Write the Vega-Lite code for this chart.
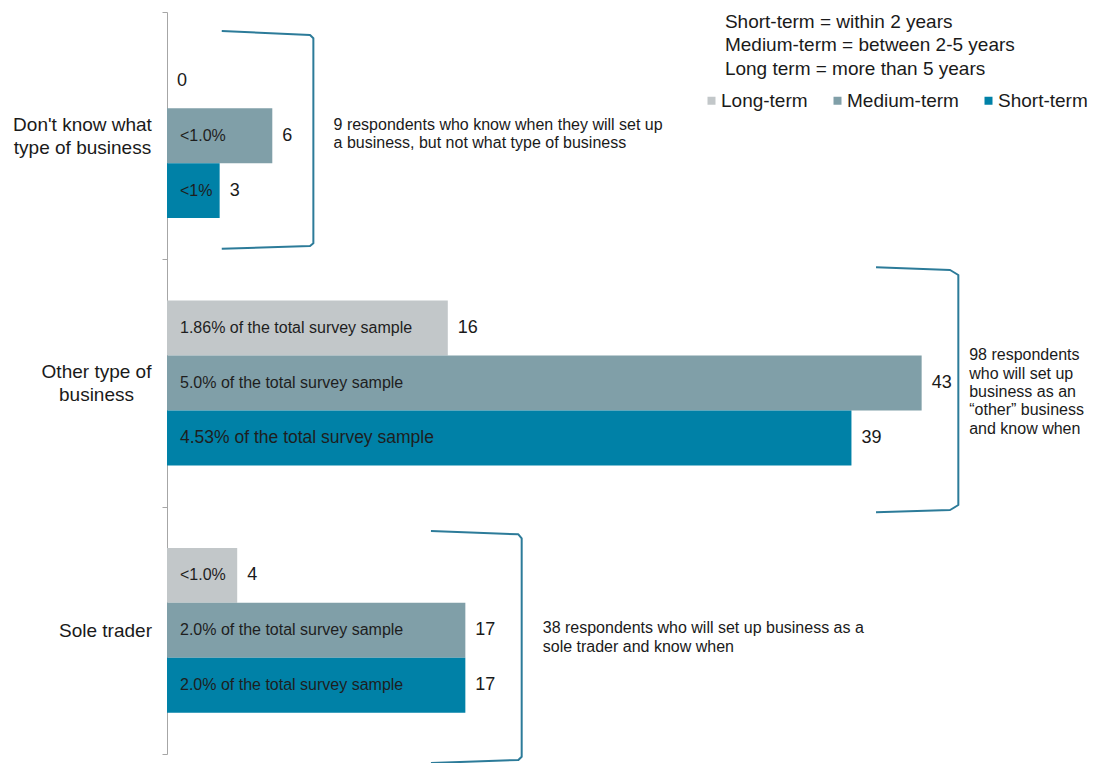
{
  "$schema": "https://vega.github.io/schema/vega-lite/v6.json",
  "width": 912.6,
  "height": 742,
  "autosize": "none",
  "padding": {"left": 167, "top": 12, "right": 16.4, "bottom": 9},
  "config": {"view": {"stroke": null}, "font": "Liberation Sans"},
  "datasets": {
    "bars": [
      {"category": "Don't know what type of business", "term": "Long-term", "count": 0, "pct": ""},
      {"category": "Don't know what type of business", "term": "Medium-term", "count": 6, "pct": "<1.0%"},
      {"category": "Don't know what type of business", "term": "Short-term", "count": 3, "pct": "<1%"},
      {"category": "Other type of business", "term": "Long-term", "count": 16, "pct": "1.86% of the total survey sample"},
      {"category": "Other type of business", "term": "Medium-term", "count": 43, "pct": "5.0% of the total survey sample"},
      {"category": "Other type of business", "term": "Short-term", "count": 39, "pct": "4.53% of the total survey sample"},
      {"category": "Sole trader", "term": "Long-term", "count": 4, "pct": "<1.0%"},
      {"category": "Sole trader", "term": "Medium-term", "count": 17, "pct": "2.0% of the total survey sample"},
      {"category": "Sole trader", "term": "Short-term", "count": 17, "pct": "2.0% of the total survey sample"}
    ],
    "brackets": [
      {"group": "dont_know", "i": 1, "x": 3.12, "y": 0.0768},
      {"group": "dont_know", "i": 2, "x": 8.15, "y": 0.093},
      {"group": "dont_know", "i": 3, "x": 8.34, "y": 0.1063},
      {"group": "dont_know", "i": 4, "x": 8.34, "y": 0.9352},
      {"group": "dont_know", "i": 5, "x": 8.15, "y": 0.9461},
      {"group": "dont_know", "i": 6, "x": 3.12, "y": 0.957},
      {"group": "other", "i": 1, "x": 40.4, "y": 1.0322},
      {"group": "other", "i": 2, "x": 44.62, "y": 1.0431},
      {"group": "other", "i": 3, "x": 45.09, "y": 1.0634},
      {"group": "other", "i": 4, "x": 45.09, "y": 1.9933},
      {"group": "other", "i": 5, "x": 44.62, "y": 2.0135},
      {"group": "other", "i": 6, "x": 40.4, "y": 2.0228},
      {"group": "sole", "i": 1, "x": 15.04, "y": 2.0984},
      {"group": "sole", "i": 2, "x": 20.02, "y": 2.1117},
      {"group": "sole", "i": 3, "x": 20.21, "y": 2.1279},
      {"group": "sole", "i": 4, "x": 20.21, "y": 3.0109},
      {"group": "sole", "i": 5, "x": 20.02, "y": 3.0243},
      {"group": "sole", "i": 6, "x": 15.04, "y": 3.0364}
    ],
    "defs": [
      {"x": 31.79, "y": 0.063, "text": "Short-term = within 2 years\nMedium-term = between 2-5 years\nLong term = more than 5 years"}
    ],
    "notes": [
      {"x": 9.49, "y": 0.4771, "text": "9 respondents who know when they will set up\na business, but not what type of business"},
      {"x": 45.71, "y": 1.409, "text": "98 respondents\nwho will set up\nbusiness as an\n“other” business\nand know when"},
      {"x": 21.41, "y": 2.512, "text": "38 respondents who will set up business as a\nsole trader and know when"}
    ]
  },
  "layer": [
    {
      "data": {"name": "bars"},
      "encoding": {
        "y": {
          "field": "category",
          "type": "nominal",
          "sort": ["Don't know what type of business", "Other type of business", "Sole trader"],
          "scale": {"paddingInner": 0, "paddingOuter": 0},
          "axis": {
            "title": null,
            "domainColor": "#a6a6a6",
            "tickColor": "#a6a6a6",
            "tickSize": 5,
            "tickBand": "extent",
            "labelFontSize": 19,
            "labelColor": "#1a1a1a",
            "labelAlign": "center",
            "labelLineHeight": 23,
            "labelLimit": 300,
            "labelOffset": {"expr": "datum.value == 'Sole trader' ? 0 : -11.5"},
            "labelPadding": {"expr": "datum.value == 'Sole trader' ? 57 : (datum.value == 'Other type of business' ? 66 : 80)"},
            "labelExpr": "datum.value == \"Don't know what type of business\" ? [\"Don't know what\", \"type of business\"] : (datum.value == \"Other type of business\" ? [\"Other type of\", \"business\"] : datum.value)"
          }
        },
        "yOffset": {
          "field": "term",
          "type": "nominal",
          "sort": ["Long-term", "Medium-term", "Short-term"],
          "scale": {"paddingInner": 0, "paddingOuter": 0.75}
        },
        "x": {
          "field": "count",
          "type": "quantitative",
          "scale": {"domain": [0, 52], "nice": false, "zero": true},
          "axis": null
        }
      },
      "layer": [
        {
          "mark": {"type": "bar"},
          "encoding": {
            "color": {
              "field": "term",
              "type": "nominal",
              "sort": ["Long-term", "Medium-term", "Short-term"],
              "scale": {"domain": ["Long-term", "Medium-term", "Short-term"], "range": ["#c2c7c9", "#809fa8", "#0081a7"]},
              "legend": {
                "orient": "none",
                "legendX": 535,
                "legendY": 79,
                "direction": "horizontal",
                "title": null,
                "symbolType": "square",
                "symbolSize": 64,
                "symbolStrokeWidth": 0,
                "labelFontSize": 19,
                "labelColor": "#1a1a1a",
                "labelOffset": 0,
                "columnPadding": 20
              }
            }
          }
        },
        {
          "mark": {"type": "text", "align": "left", "baseline": "middle", "dx": 10, "fontSize": 18, "color": "#1a1a1a"},
          "encoding": {"text": {"field": "count", "type": "quantitative"}}
        },
        {
          "mark": {"type": "text", "align": "left", "baseline": "middle", "dx": 13, "color": "#1e1e1e"},
          "encoding": {
            "x": {"datum": 0, "type": "quantitative"},
            "text": {"field": "pct", "type": "nominal"},
            "size": {"condition": {"test": "datum.pct == '4.53% of the total survey sample'", "value": 17.5}, "value": 16}
          }
        }
      ]
    },
    {
      "data": {"name": "brackets"},
      "mark": {"type": "line", "color": "#2c7b99", "strokeWidth": 2, "strokeJoin": "round"},
      "encoding": {
        "x": {"field": "x", "type": "quantitative", "scale": {"domain": [0, 52], "nice": false, "zero": true}, "axis": null},
        "y": {"field": "y", "type": "quantitative", "scale": {"domain": [0, 3], "reverse": true, "nice": false, "zero": false}, "axis": null},
        "detail": {"field": "group", "type": "nominal"},
        "order": {"field": "i", "type": "quantitative"}
      }
    },
    {
      "data": {"name": "defs"},
      "mark": {"type": "text", "align": "left", "baseline": "alphabetic", "lineBreak": "\n", "lineHeight": 23.5, "fontSize": 19, "color": "#1a1a1a"},
      "encoding": {
        "x": {"field": "x", "type": "quantitative", "scale": {"domain": [0, 52], "nice": false, "zero": true}, "axis": null},
        "y": {"field": "y", "type": "quantitative", "scale": {"domain": [0, 3], "reverse": true, "nice": false, "zero": false}, "axis": null},
        "text": {"field": "text", "type": "nominal"}
      }
    },
    {
      "data": {"name": "notes"},
      "mark": {"type": "text", "align": "left", "baseline": "alphabetic", "lineBreak": "\n", "lineHeight": 18.3, "fontSize": 16, "color": "#1a1a1a"},
      "encoding": {
        "x": {"field": "x", "type": "quantitative", "scale": {"domain": [0, 52], "nice": false, "zero": true}, "axis": null},
        "y": {"field": "y", "type": "quantitative", "scale": {"domain": [0, 3], "reverse": true, "nice": false, "zero": false}, "axis": null},
        "text": {"field": "text", "type": "nominal"}
      }
    }
  ],
  "resolve": {"scale": {"y": "independent"}}
}
